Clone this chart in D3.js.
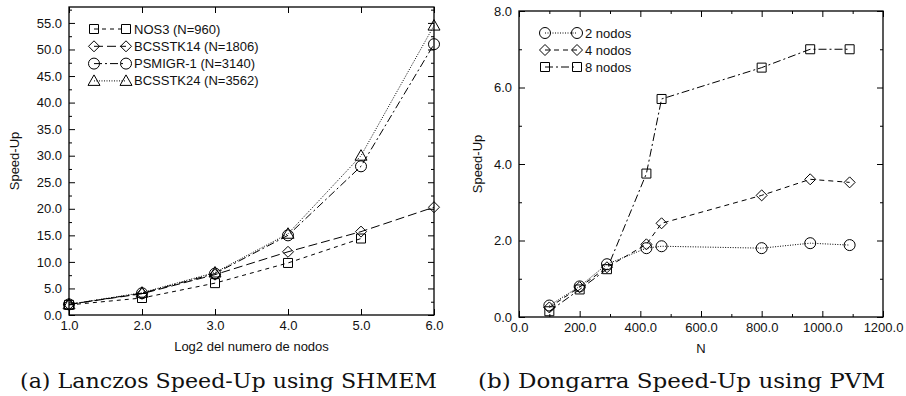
<!DOCTYPE html>
<meta charset="utf-8">
<style>
  body { margin: 0; background: #fff; }
  text { font-family: "Liberation Sans", Arial, sans-serif; fill: #111; }
</style>
<svg width="906" height="396"></svg>
<script src="https://d3js.org/d3.v7.min.js"></script>
<script>
// (a) Lanczos - x = log2 del numero de nodos
var lanczosX = [1, 2, 3, 4, 5, 6];
var nos3 = [1.9, 3.2, 6.0, 9.8, 14.4];
var bcsstk14 = [2.0, 4.0, 7.6, 11.9, 15.7, 20.3];
var psmigr1 = [2.0, 4.1, 7.8, 15.0, 28.0, 51.0];
var bcsstk24 = [2.0, 4.2, 8.0, 15.3, 30.0, 54.5];
var lanczosNames = ["NOS3 (N=960)", "BCSSTK14 (N=1806)", "PSMIGR-1 (N=3140)", "BCSSTK24 (N=3562)"];

// (b) Dongarra - x = N
var dongarraN = [100, 200, 290, 420, 470, 800, 960, 1090];
var nodos2 = [0.30, 0.80, 1.38, 1.80, 1.85, 1.80, 1.93, 1.88];
var nodos4 = [0.25, 0.78, 1.30, 1.90, 2.45, 3.18, 3.60, 3.52];
var nodos8 = [0.15, 0.72, 1.25, 3.75, 5.70, 6.52, 7.00, 7.00];
var dongarraNames = ["2 nodos", "4 nodos", "8 nodos"];

var captions = ["(a) Lanczos Speed-Up using SHMEM", "(b) Dongarra Speed-Up using PVM"];

var svg = d3.select("svg");
var fmt = d3.format(".1f");

// gnuplot-like point shapes
var shapes = {
  square: function(p, x, y) { p.rect(x - 4.5, y - 4.5, 9, 9); },
  diamond: function(p, x, y) { p.moveTo(x, y - 5.5); p.lineTo(x + 5.5, y); p.lineTo(x, y + 5.5); p.lineTo(x - 5.5, y); p.closePath(); },
  circle: function(p, x, y) { p.moveTo(x + 5.5, y); p.arc(x, y, 5.5, 0, 2 * Math.PI); },
  triangle: function(p, x, y) { p.moveTo(x, y - 6); p.lineTo(x + 6, y + 4.5); p.lineTo(x - 6, y + 4.5); p.closePath(); }
};
function marker(g, shape, x, y) {
  var p = d3.path();
  shapes[shape](p, x, y);
  g.append("path").attr("d", p.toString())
    .attr("fill", "none").attr("stroke", "#000").attr("stroke-width", 1);
}

function panel(opt) {
  var w = opt.x1 - opt.x0, h = opt.y1 - opt.y0;
  var g = svg.append("g").attr("transform", "translate(" + opt.x0 + "," + opt.y0 + ")");
  var x = d3.scaleLinear().domain(opt.xDomain).range([0, w]);
  var y = d3.scaleLinear().domain(opt.yDomain).range([h, 0]);

  function styleAxis(a) {
    a.select(".domain").remove();
    a.selectAll("line").attr("stroke", "#000");
    a.selectAll("text").attr("font-size", 13).attr("fill", "#111").attr("font-family", "Liberation Sans, Arial, sans-serif");
  }
  // minor ticks
  g.append("g").call(d3.axisLeft(y).tickValues(opt.yMinor).tickSize(-3).tickFormat("")).call(styleAxis);
  g.append("g").attr("transform", "translate(" + w + ",0)")
    .call(d3.axisRight(y).tickValues(opt.yMinor).tickSize(-3).tickFormat("")).call(styleAxis);
  if (opt.xMinor.length) {
    g.append("g").attr("transform", "translate(0," + h + ")")
      .call(d3.axisBottom(x).tickValues(opt.xMinor).tickSize(-3).tickFormat("")).call(styleAxis);
    g.append("g").call(d3.axisTop(x).tickValues(opt.xMinor).tickSize(-3).tickFormat("")).call(styleAxis);
  }
  // major ticks
  g.append("g").call(d3.axisLeft(y).tickValues(opt.yTicks).tickSize(-6).tickPadding(7).tickFormat(fmt)).call(styleAxis);
  g.append("g").attr("transform", "translate(" + w + ",0)")
    .call(d3.axisRight(y).tickValues(opt.yTicks).tickSize(-6).tickFormat("")).call(styleAxis);
  g.append("g").attr("transform", "translate(0," + h + ")")
    .call(d3.axisBottom(x).tickValues(opt.xTicks).tickSize(-6).tickPadding(6).tickFormat(fmt)).call(styleAxis);
  g.append("g").call(d3.axisTop(x).tickValues(opt.xTicks).tickSize(-6).tickFormat("")).call(styleAxis);

  g.append("rect").attr("width", w).attr("height", h)
    .attr("fill", "none").attr("stroke", "#000").attr("stroke-width", 1.3);

  // series
  opt.series.forEach(function(s) {
    var pts = s.values.map(function(v, i) { return [opt.xs[i], v]; });
    g.append("path").datum(pts)
      .attr("d", d3.line().x(function(d) { return x(d[0]); }).y(function(d) { return y(d[1]); }))
      .attr("fill", "none").attr("stroke", "#000").attr("stroke-width", 1)
      .attr("stroke-dasharray", s.dash);
    pts.forEach(function(d) { marker(g, s.shape, x(d[0]), y(d[1])); });
  });

  // key
  opt.series.forEach(function(s, i) {
    var ky = opt.keyY + i * opt.keyStep;
    var kx = opt.keyX;
    g.append("line").attr("x1", kx).attr("x2", kx + opt.keyLen).attr("y1", ky).attr("y2", ky)
      .attr("stroke", "#000").attr("stroke-width", 1).attr("stroke-dasharray", s.dash);
    marker(g, s.shape, kx, ky);
    marker(g, s.shape, kx + opt.keyLen, ky);
    g.append("text").attr("x", kx + opt.keyLen + 8).attr("y", ky).attr("dy", "0.35em")
      .attr("font-size", 13).text(s.name);
  });

  // axis titles
  g.append("text").attr("x", w / 2).attr("y", h + 36).attr("text-anchor", "middle")
    .attr("font-size", 13).text(opt.xTitle);
  g.append("text").attr("transform", "translate(" + (opt.yTitleX - opt.x0) + "," + (h / 2) + ") rotate(-90)")
    .attr("text-anchor", "middle").attr("dy", "0.35em").attr("font-size", 13).text("Speed-Up");
}

panel({
  x0: 69, x1: 434, y0: 7, y1: 315,
  xDomain: [1, 6], yDomain: [0, 58],
  xTicks: lanczosX, xMinor: [],
  yTicks: d3.range(0, 56, 5), yMinor: d3.range(2.5, 58, 5),
  xs: lanczosX,
  series: [
    { name: lanczosNames[0], values: nos3, shape: "square", dash: "4,4" },
    { name: lanczosNames[1], values: bcsstk14, shape: "diamond", dash: "9,4" },
    { name: lanczosNames[2], values: psmigr1, shape: "circle", dash: "8,3,2,3" },
    { name: lanczosNames[3], values: bcsstk24, shape: "triangle", dash: "1,1.5" }
  ],
  keyX: 25, keyY: 22, keyStep: 17.3, keyLen: 32,
  xTitle: "Log2 del numero de nodos", yTitleX: 14
});

panel({
  x0: 519, x1: 883, y0: 11, y1: 317,
  xDomain: [0, 1200], yDomain: [0, 8],
  xTicks: d3.range(0, 1201, 200), xMinor: d3.range(100, 1200, 200),
  yTicks: d3.range(0, 9, 2), yMinor: d3.range(1, 8, 2),
  xs: dongarraN,
  series: [
    { name: dongarraNames[0], values: nodos2, shape: "circle", dash: "1,1.5" },
    { name: dongarraNames[1], values: nodos4, shape: "diamond", dash: "5,4" },
    { name: dongarraNames[2], values: nodos8, shape: "square", dash: "8,3,2,3" }
  ],
  keyX: 26, keyY: 22, keyStep: 17, keyLen: 32,
  xTitle: "N", yTitleX: 477
});

// captions
[[20, 437], [478, 885]].forEach(function(r, i) {
  svg.append("text").attr("x", r[0]).attr("y", 388)
    .style("font-family", "'DejaVu Serif', serif")
    .attr("font-size", 21).attr("textLength", r[1] - r[0]).attr("lengthAdjust", "spacingAndGlyphs")
    .text(captions[i]);
});
</script>
